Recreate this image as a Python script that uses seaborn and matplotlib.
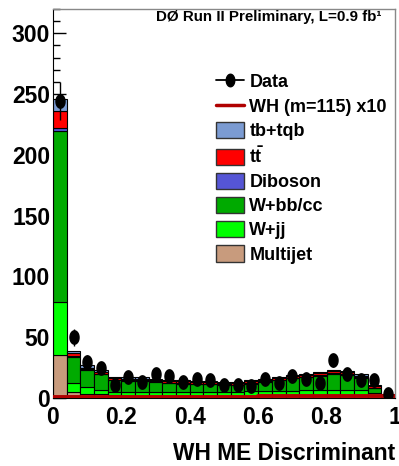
import numpy as np
import pandas as pd
import matplotlib
matplotlib.use("Agg")
import matplotlib.pyplot as plt
from matplotlib.patches import Patch
from matplotlib.lines import Line2D
from matplotlib.ticker import MultipleLocator
import seaborn as sns

# 25 bins of width 0.04 on the discriminant
bin_edges = [round(0.04 * i, 2) for i in range(26)]
bin_centers = [round(0.02 + 0.04 * i, 2) for i in range(25)]

# observed events
data = [244, 50, 30, 25, 11, 17, 13, 20, 18, 13, 16, 15, 11,
        11, 10, 16, 12, 18, 16, 12, 31, 20, 15, 15, 3]

# background expectations (stacked, bottom to top)
multijet = [35, 5, 3, 3, 2.5, 2, 2, 2, 2, 2, 2, 2, 2,
            2, 2, 2, 2, 2, 2, 2, 2, 2, 2, 1.5, 0.5]
w_jj = [44, 7, 6, 3.5, 2.5, 3, 3, 3, 3, 3, 3, 3, 3,
        3, 3.5, 3.5, 4, 4, 4.5, 4.5, 5, 5, 4.5, 3, 0.5]
w_bb = [141, 22, 14, 12.9, 9.5, 9.1, 9.1, 8.2, 7.3, 6.8, 6.3, 6.3, 5.8,
        5.3, 6.3, 7.8, 8.6, 10.1, 10.5, 11.9, 12.7, 11.9, 10.1, 3.7, 1.0]
diboson = [2.5, 0.6, 0.5, 0.5, 0.5, 0.4, 0.4, 0.4, 0.4, 0.4, 0.4, 0.4, 0.4,
           0.4, 0.4, 0.4, 0.4, 0.4, 0.4, 0.5, 0.5, 0.5, 0.4, 0.3, 0.2]
ttbar = [13.5, 2.2, 1.5, 1.5, 1.5, 1.5, 1.5, 1.4, 1.4, 1.4, 1.4, 1.4, 1.4,
         1.4, 1.4, 1.4, 1.5, 1.5, 1.6, 1.6, 1.7, 1.6, 1.5, 1.5, 0.5]
tb_tqb = [10, 2.2, 2, 1.6, 1, 1, 1, 1, 0.9, 0.9, 0.9, 0.9, 0.9,
          0.9, 0.9, 0.9, 1, 1, 1, 1, 1.1, 1, 1, 0.5, 0.3]

# WH signal (m=115) scaled x10
wh_x10 = [1.0, 1.0, 1.0, 1.0, 1.0, 1.0, 1.0, 1.0, 1.0, 1.1, 1.1, 1.1, 1.2,
          1.2, 1.2, 1.3, 1.3, 1.4, 1.5, 1.6, 1.8, 2.0, 2.0, 2.0, 1.8]

names = ["tb+tqb", "ttbar", "Diboson", "W+bb/cc", "W+jj", "Multijet"]
labels = ["tb+tqb", r"$\mathbf{t\bar{t}}$", "Diboson", "W+bb/cc", "W+jj", "Multijet"]
colors = ["#7b9bd2", "#ff0000", "#5555d5", "#00aa00", "#00ff00", "#c89b7d"]
values = [tb_tqb, ttbar, diboson, w_bb, w_jj, multijet]

df = pd.DataFrame({
    "x": np.tile(bin_centers, len(names)),
    "w": np.concatenate(values),
    "process": np.repeat(names, len(bin_centers)),
})

sns.set_style("ticks")
plt.rcParams["font.family"] = ["Liberation Sans", "DejaVu Sans"]
plt.rcParams["font.weight"] = "bold"
plt.rcParams["text.color"] = "black"
plt.rcParams["axes.labelcolor"] = "black"
plt.rcParams["xtick.color"] = "black"
plt.rcParams["ytick.color"] = "black"
plt.rcParams["mathtext.fontset"] = "custom"
plt.rcParams["mathtext.rm"] = "Liberation Sans:bold"
plt.rcParams["mathtext.bf"] = "Liberation Sans:bold"

fig = plt.figure(figsize=(3.99, 4.66), dpi=100)
ax = fig.add_axes([0.1328, 0.1459, 0.857, 0.8348])

sns.histplot(df, x="x", weights="w", hue="process", hue_order=names,
             multiple="stack", bins=bin_edges, palette=dict(zip(names, colors)),
             edgecolor="black", linewidth=0.8, alpha=1, legend=False, ax=ax)

sns.histplot(x=bin_centers, weights=wh_x10, bins=bin_edges, element="step",
             fill=False, color="#b00000", linewidth=2.8, ax=ax, zorder=4)

# ellipse marker like the original
t = np.linspace(0, 2 * np.pi, 60)
ell = np.column_stack([0.68 * np.cos(t), np.sin(t)])
ax.errorbar(bin_centers, data, yerr=np.sqrt(data), fmt="none",
            ecolor="black", elinewidth=1, capsize=0, zorder=5)
ax.plot(bin_centers, data, linestyle="none", marker=ell, ms=9.6,
        color="black", zorder=6)

ax.set_xlim(0, 1)
ax.set_ylim(0, 320)
ax.set_xticks([0, 0.2, 0.4, 0.6, 0.8, 1.0])
ax.set_xticklabels(["0", "0.2", "0.4", "0.6", "0.8", "1"])
ax.yaxis.set_major_locator(MultipleLocator(50))
ax.yaxis.set_minor_locator(MultipleLocator(10))
ax.tick_params(axis="y", which="major", direction="in", length=9, width=1,
               labelsize=16.5, pad=2, colors="black")
ax.tick_params(axis="y", which="minor", direction="in", length=5, width=1,
               colors="black")
ax.tick_params(axis="x", length=0, labelsize=16.5, pad=6, colors="black")
ax.set_ylabel("")
ax.set_xlabel("WH ME Discriminant", fontsize=16.4, fontweight="bold",
              color="black")
ax.xaxis.set_label_coords(1.0, -0.112)
ax.xaxis.label.set_ha("right")

for side in ["top", "right"]:
    ax.spines[side].set_color("#888888")
    ax.spines[side].set_linewidth(1)
ax.spines["left"].set_color("black")
ax.spines["bottom"].set_color("black")

ax.text(0.962, 0.997, "DØ Run II Preliminary, L=0.9 fb¹", transform=ax.transAxes,
        ha="right", va="top", fontsize=10.9, fontweight="bold", color="black")

handles = [Line2D([], [], color="black", marker=ell, ms=9, lw=1.3),
           Line2D([], [], color="#b00000", lw=2.5)]
handles += [Patch(facecolor=c, edgecolor="#333333", lw=1) for c in colors]
leg_labels = ["Data", "WH (m=115) x10"] + labels
leg = ax.legend(handles, leg_labels, loc="upper left",
                bbox_to_anchor=(0.541, 0.843), bbox_transform=fig.transFigure,
                frameon=False, fontsize=13, handlelength=1.56,
                handleheight=1.0, handletextpad=0.3, labelspacing=0.33,
                borderpad=0, borderaxespad=0)
for txt in leg.get_texts():
    txt.set_color("black")

fig.savefig("out.png", dpi=100)
